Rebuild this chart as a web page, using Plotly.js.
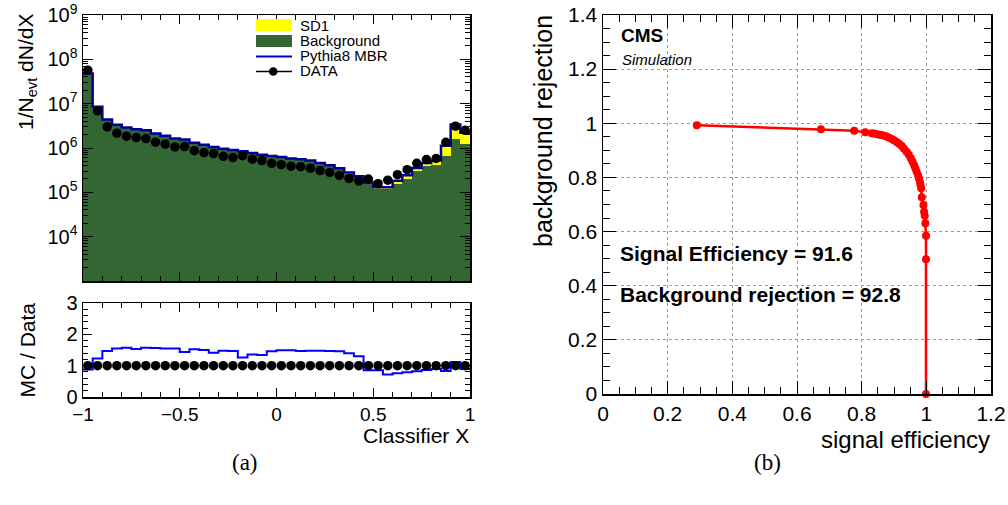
<!DOCTYPE html>
<html><head><meta charset="utf-8">
<script src="https://cdn.plot.ly/plotly-3.0.1.min.js"></script>
<style>html,body{margin:0;padding:0;background:#fff}#chart{width:1008px;height:505px}</style>
</head><body><div id="chart"></div>
<script>
// ---- Panel (a): Classifier X distribution ----
const binCenters = [-0.975,-0.925,-0.875,-0.825,-0.775,-0.725,-0.675,-0.625,-0.575,-0.525,
  -0.475,-0.425,-0.375,-0.325,-0.275,-0.225,-0.175,-0.125,-0.075,-0.025,
  0.025,0.075,0.125,0.175,0.225,0.275,0.325,0.375,0.425,0.475,
  0.525,0.575,0.625,0.675,0.725,0.775,0.825,0.875,0.925,0.975];
const binWidth = 0.05;
const dataY = [5.7e7,6.9e6,3.0e6,2.16e6,1.85e6,1.72e6,1.63e6,1.35e6,1.22e6,1.06e6,
  1.08e6,8.7e5,7.9e5,7.5e5,6.5e5,6.1e5,6.7e5,5.6e5,5.2e5,4.5e5,
  4.2e5,3.9e5,3.8e5,3.5e5,3.1e5,2.8e5,2.4e5,2.06e5,1.8e5,1.99e5,
  1.57e5,1.88e5,2.5e5,3.25e5,4.5e5,5.5e5,5.8e5,1.34e6,3.1e6,2.5e6];
const backgroundY = [4.75e7,8.4e6,4.35e6,3.3e6,2.86e6,2.62e6,2.5e6,2.1e6,1.88e6,1.62e6,
  1.54e6,1.3e6,1.17e6,1.04e6,9.4e5,8.8e5,8.2e5,7.5e5,6.8e5,6.4e5,
  6.1e5,5.6e5,5.4e5,5.0e5,4.4e5,3.9e5,3.3e5,2.65e5,2.2e5,1.6e5,
  1.18e5,1.18e5,1.56e5,2.05e5,3.09e5,3.86e5,4.2e5,6.6e5,1.6e6,1.22e6];
const sd1Y = [5e5,1e5,5e4,4e4,3e4,3e4,3e4,2e4,2e4,2e4,
  2e4,2e4,2e4,2e4,2e4,2e4,2e4,2e4,2e4,2e4,
  2e4,2e4,2e4,2e4,2e4,2e4,2e4,1.5e4,1e4,7e3,
  1.2e4,1.2e4,2.7e4,3.9e4,4.6e4,7.4e4,1.0e5,4.7e5,1.8e6,9.8e5];
const mcOverData = [0.88,1.23,1.47,1.55,1.57,1.53,1.57,1.56,1.55,1.55,
  1.44,1.52,1.50,1.41,1.48,1.47,1.26,1.36,1.34,1.46,
  1.49,1.49,1.47,1.48,1.48,1.47,1.46,1.40,1.30,0.85,
  0.85,0.72,0.76,0.79,0.82,0.86,0.89,0.83,1.12,0.89];
const dataOverData = [1,1,1,1,1,1,1,1,1,1, 1,1,1,1,1,1,1,1,1,1,
  1,1,1,1,1,1,1,1,1,1, 1,1,1,1,1,1,1,1,1,1];
const logTickVals = [1e4,1e5,1e6,1e7,1e8,1e9];
const logTickText = ['10<sup>4</sup>','10<sup>5</sup>','10<sup>6</sup>','10<sup>7</sup>','10<sup>8</sup>','10<sup>9</sup>'];

// ---- Panel (b): ROC curve ----
const sigEff = [0.290,0.674,0.777,0.811,0.831,0.838,0.846,0.854,0.862,0.870,
  0.877,0.885,0.893,0.900,0.908,0.916,0.924,0.931,0.939,0.946,
  0.952,0.957,0.962,0.966,0.970,0.974,0.977,0.980,0.982,0.984,
  0.986,0.991,0.993,0.995,0.997,0.999,0.999,0.999];
const bkgRej = [0.993,0.978,0.972,0.967,0.963,0.962,0.960,0.958,0.957,0.954,
  0.951,0.947,0.942,0.937,0.931,0.924,0.916,0.906,0.895,0.884,
  0.871,0.859,0.846,0.834,0.821,0.809,0.797,0.784,0.772,0.760,
  0.727,0.698,0.673,0.658,0.631,0.585,0.498,0.0];

// step outline helpers (bin edges from centers)
const edges = binCenters.map(c => c - binWidth/2).concat([binCenters[binCenters.length-1] + binWidth/2]);
const totalMC = backgroundY.map((b,i) => b + sd1Y[i]);
const stepY = a => a.concat([a[a.length-1]]);

const FONT = 'Liberation Sans, Arial, sans-serif';
const W = 1008, H = 505;
const px = x => x / W, py = y => 1 - y / H;

const traces = [
  {type:'bar', x:binCenters, y:backgroundY, width:binWidth, marker:{color:'#336633', line:{width:0}}, xaxis:'x', yaxis:'y', showlegend:false, hoverinfo:'skip'},
  {type:'bar', x:binCenters, y:sd1Y, width:binWidth, marker:{color:'#ffff00', line:{width:0}}, xaxis:'x', yaxis:'y', showlegend:false, hoverinfo:'skip'},
  {type:'scatter', mode:'lines', x:edges, y:stepY(totalMC), line:{shape:'hv', color:'#000099', width:2.5}, xaxis:'x', yaxis:'y', showlegend:false},
  {type:'scatter', mode:'markers', x:binCenters, y:dataY, marker:{color:'#000', size:9.5}, xaxis:'x', yaxis:'y', showlegend:false, cliponaxis:false},
  {type:'scatter', mode:'lines', x:edges, y:stepY(mcOverData), line:{shape:'hv', color:'#0000ff', width:2}, xaxis:'x2', yaxis:'y2', showlegend:false},
  {type:'scatter', mode:'markers', x:binCenters, y:dataOverData, marker:{color:'#000', size:9.5}, xaxis:'x2', yaxis:'y2', showlegend:false, cliponaxis:false},
  {type:'scatter', mode:'lines+markers', x:sigEff, y:bkgRej, line:{color:'#ff0000', width:2.5}, marker:{color:'#ff0000', size:8}, xaxis:'x3', yaxis:'y3', showlegend:false, cliponaxis:false}
];

const minorLog = [];
for (let d = 3; d < 9; d++) for (let k = 2; k <= 9; k++) minorLog.push(k * Math.pow(10, d));

const frame = {showline:true, linecolor:'#000', linewidth:1.5, mirror:'ticks', ticks:'inside', tickcolor:'#000', zeroline:false, showgrid:false};

const layout = {
  width:W, height:H, margin:{l:0,r:0,t:0,b:0}, paper_bgcolor:'#fff', plot_bgcolor:'#fff',
  barmode:'stack', bargap:0, showlegend:false,
  font:{family:FONT, color:'#000'},
  xaxis: Object.assign({}, frame, {domain:[px(83), px(470)], anchor:'y', range:[-1,1], tick0:-1, dtick:0.5, ticklen:9,
    minor:{dtick:0.1, ticks:'inside', ticklen:5, tickcolor:'#000'}, showticklabels:false}),
  yaxis: Object.assign({}, frame, {domain:[py(281), py(15)], anchor:'x', type:'log', range:[3,9], tickmode:'array',
    tickvals:logTickVals, ticktext:logTickText, ticklen:10, tickfont:{size:20},
    minor:{tickmode:'array', tickvals:minorLog, ticks:'inside', ticklen:5, tickcolor:'#000'}}),
  xaxis2: Object.assign({}, frame, {domain:[px(83), px(470)], anchor:'y2', range:[-1,1], tick0:-1, dtick:0.5, ticklen:9,
    minor:{dtick:0.1, ticks:'inside', ticklen:5, tickcolor:'#000'}, tickfont:{size:19}}),
  yaxis2: Object.assign({}, frame, {domain:[py(397), py(303)], anchor:'x2', range:[0,3], dtick:1, ticklen:9,
    minor:{dtick:0.2, ticks:'inside', ticklen:5, tickcolor:'#000'}, tickfont:{size:20}}),
  xaxis3: Object.assign({}, frame, {domain:[px(603), px(991)], anchor:'y3', range:[0,1.2], dtick:0.2, ticklen:13,
    showgrid:true, gridcolor:'#999999', griddash:'dot', gridwidth:1,
    minor:{dtick:0.05, ticks:'inside', ticklen:7, tickcolor:'#000', showgrid:false}, tickfont:{size:21}}),
  yaxis3: Object.assign({}, frame, {domain:[py(394), py(15)], anchor:'x3', range:[0,1.4], dtick:0.2, ticklen:13,
    showgrid:true, gridcolor:'#999999', griddash:'dot', gridwidth:1,
    minor:{dtick:0.05, ticks:'inside', ticklen:7, tickcolor:'#000', showgrid:false}, tickfont:{size:21}}),
  shapes: [
    {type:'rect', xref:'paper', yref:'paper', x0:px(256), x1:px(292), y0:py(31), y1:py(19), fillcolor:'#ffff00', line:{width:0}},
    {type:'rect', xref:'paper', yref:'paper', x0:px(256), x1:px(292), y0:py(47), y1:py(35), fillcolor:'#336633', line:{width:0}},
    {type:'line', xref:'paper', yref:'paper', x0:px(256), x1:px(292), y0:py(56.5), y1:py(56.5), line:{color:'#0000cc', width:2}},
    {type:'line', xref:'paper', yref:'paper', x0:px(256), x1:px(292), y0:py(71.5), y1:py(71.5), line:{color:'#000', width:1.5}},
    {type:'circle', xref:'paper', yref:'paper', x0:px(269), x1:px(277.5), y0:py(75.7), y1:py(67.2), fillcolor:'#000', line:{width:0}}
  ],
  annotations: [
    {xref:'paper', yref:'paper', x:px(298), y:py(25), xanchor:'left', yanchor:'middle', text:'SD1', showarrow:false, font:{size:15}},
    {xref:'paper', yref:'paper', x:px(298), y:py(40.5), xanchor:'left', yanchor:'middle', text:'Background', showarrow:false, font:{size:15}},
    {xref:'paper', yref:'paper', x:px(298), y:py(55.5), xanchor:'left', yanchor:'middle', text:'Pythia8 MBR', showarrow:false, font:{size:15}},
    {xref:'paper', yref:'paper', x:px(298), y:py(70.5), xanchor:'left', yanchor:'middle', text:'DATA', showarrow:false, font:{size:15}},
    {xref:'paper', yref:'paper', x:px(27), y:py(12), xanchor:'center', yanchor:'top', textangle:-90, text:'1/N<sub>evt</sub> dN/dX', showarrow:false, font:{size:21}},
    {xref:'paper', yref:'paper', x:px(27), y:py(301), xanchor:'center', yanchor:'top', textangle:-90, text:'MC / Data', showarrow:false, font:{size:21}},
    {xref:'paper', yref:'paper', x:px(471), y:py(435), xanchor:'right', yanchor:'middle', text:'Classifier X', showarrow:false, font:{size:21}},
    {xref:'paper', yref:'paper', x:px(543), y:py(13), xanchor:'center', yanchor:'top', textangle:-90, text:'background rejection', showarrow:false, font:{size:25}},
    {xref:'paper', yref:'paper', x:px(992), y:py(439), xanchor:'right', yanchor:'middle', text:'signal efficiency', showarrow:false, font:{size:24}},
    {xref:'paper', yref:'paper', x:px(619), y:py(35), xanchor:'left', yanchor:'middle', text:'<b>CMS</b>', showarrow:false, font:{size:19}},
    {xref:'paper', yref:'paper', x:px(620), y:py(59.5), xanchor:'left', yanchor:'middle', text:'<i>Simulation</i>', showarrow:false, font:{size:15}},
    {xref:'paper', yref:'paper', x:px(618), y:py(253), xanchor:'left', yanchor:'middle', text:'<b>Signal Efficiency = 91.6</b>', showarrow:false, font:{size:21}},
    {xref:'paper', yref:'paper', x:px(618), y:py(294), xanchor:'left', yanchor:'middle', text:'<b>Background rejection = 92.8</b>', showarrow:false, font:{size:21}},
    {xref:'paper', yref:'paper', x:px(245), y:py(462), xanchor:'center', yanchor:'middle', text:'(a)', showarrow:false, font:{size:23, family:'Liberation Serif, serif'}},
    {xref:'paper', yref:'paper', x:px(767), y:py(462), xanchor:'center', yanchor:'middle', text:'(b)', showarrow:false, font:{size:23, family:'Liberation Serif, serif'}}
  ]
};

Plotly.newPlot('chart', traces, layout, {staticPlot:true, displayModeBar:false});
</script>
</body></html>
